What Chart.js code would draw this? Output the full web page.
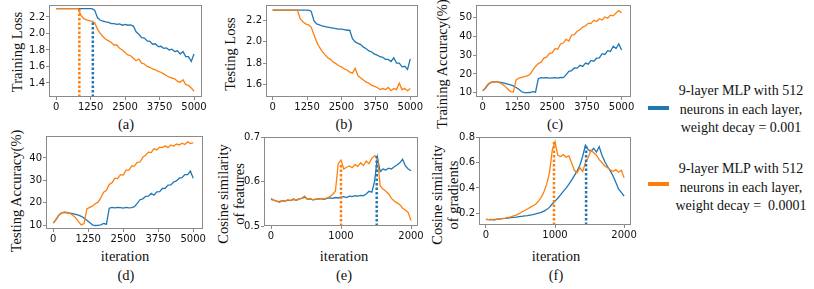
<!DOCTYPE html>
<html>
<head>
<meta charset="utf-8">
<script src="https://cdn.jsdelivr.net/npm/chart.js@4.4.0/dist/chart.umd.min.js"></script>
<style>
  body { margin: 0; background: #fff; }
  #fig { position: relative; width: 814px; height: 289px; overflow: hidden; background: #fff;
         font-family: 'Liberation Serif', 'Times New Roman', serif; color: #111; }
  #fig canvas { position: absolute; }
  .lbl { position: absolute; white-space: nowrap; font-size: 14.5px; line-height: 15.5px;
         text-align: center; transform: translate(-50%, -50%); }
  .rot { transform: translate(-50%, -50%) rotate(-90deg); }
  .patch { position: absolute; width: 21px; height: 4px; }
  .leg { position: absolute; white-space: nowrap; font-size: 14px; line-height: 18.7px;
         text-align: center; transform: translate(-50%, -50%); }
</style>
</head>
<body>
<div id="fig">
  <div class="lbl rot" style="left:18px;top:52px">Training Loss</div>
  <div class="lbl rot" style="left:231px;top:54px">Testing Loss</div>
  <div class="lbl rot" style="left:443px;top:64px">Training Accuracy(%)</div>
  <div class="lbl rot" style="left:17px;top:191px">Testing Accuracy(%)</div>
  <div class="lbl rot" style="left:231px;top:194px">Cosine similarity<br>of features</div>
  <div class="lbl rot" style="left:445px;top:195px">Cosine similarity<br>of gradients</div>

  <div class="lbl" style="left:126px;top:125px">(a)</div>
  <div class="lbl" style="left:344px;top:125px">(b)</div>
  <div class="lbl" style="left:555px;top:125px">(c)</div>
  <div class="lbl" style="left:125px;top:257px">iteration</div>
  <div class="lbl" style="left:344px;top:257px">iteration</div>
  <div class="lbl" style="left:556px;top:257px">iteration</div>
  <div class="lbl" style="left:126px;top:276px">(d)</div>
  <div class="lbl" style="left:344px;top:276px">(e)</div>
  <div class="lbl" style="left:556px;top:276px">(f)</div>

  <div class="patch" style="left:648px;top:106px;background:#1f77b4"></div>
  <div class="leg" style="left:741px;top:110px">9-layer MLP with 512<br>neurons in each layer,<br>weight decay = 0.001</div>
  <div class="patch" style="left:648px;top:182px;background:#ff7f0e"></div>
  <div class="leg" style="left:741px;top:188px">9-layer MLP with 512<br>neurons in each layer,<br>weight decay =&nbsp; 0.0001</div>
</div>
<script>
const BLUE = '#1f77b4';
const ORANGE = '#ff7f0e';
const FRAME = '#8a8a8a';

// iterations (x) for the 5000-step runs and the 2000-step similarity runs
const iters5k = [0,100,200,300,400,500,600,700,800,900,1000,1100,1200,1300,1400,1500,1600,1700,1800,1900,
  2000,2100,2200,2300,2400,2500,2600,2700,2800,2900,3000,3100,3200,3300,3400,3500,3600,3700,3800,3900,
  4000,4100,4200,4300,4400,4500,4600,4700,4800,4900,5000];
const iters2k = [0,40,80,120,160,200,240,280,320,360,400,440,480,520,560,600,640,680,720,760,
  800,840,880,920,960,1000,1040,1080,1120,1160,1200,1240,1280,1320,1360,1400,1440,1480,1520,1560,
  1600,1640,1680,1720,1760,1800,1840,1880,1920,1960,2000];

// blue = weight decay 0.001, orange = weight decay 0.0001
const trainLossBlue = [2.30,2.30,2.30,2.30,2.30,2.30,2.30,2.30,2.30,2.30,2.30,2.30,2.30,2.30,
  2.28,2.19,2.16,2.15,2.14,2.135,
  2.12,2.12,2.11,2.115,2.10,2.11,2.10,2.105,2.09,2.02,
  1.99,1.95,1.945,1.91,1.905,1.87,1.875,1.84,1.845,1.82,
  1.825,1.80,1.81,1.78,1.79,1.75,1.78,1.72,1.72,1.66,
  1.75];
const trainLossOrange = [2.30,2.30,2.30,2.30,2.30,2.30,2.30,2.30,2.30,
  2.22,2.18,2.165,2.155,2.145,2.13,2.05,2.00,1.96,1.93,1.91,
  1.89,1.86,1.86,1.82,1.80,1.77,1.74,1.73,1.70,1.67,
  1.69,1.64,1.63,1.60,1.59,1.57,1.56,1.54,1.53,1.51,
  1.49,1.47,1.46,1.45,1.42,1.41,1.44,1.38,1.37,1.34,
  1.30];

const testLossBlue = [2.30,2.30,2.30,2.30,2.30,2.30,2.30,2.30,2.30,2.30,2.30,2.30,2.30,2.30,
  2.29,2.20,2.17,2.16,2.15,2.145,
  2.14,2.135,2.13,2.125,2.12,2.12,2.115,2.11,2.11,2.03,
  2.00,1.985,1.975,1.95,1.935,1.915,1.905,1.885,1.875,1.86,
  1.855,1.835,1.835,1.815,1.85,1.80,1.80,1.765,1.77,1.74,
  1.84];
const testLossOrange = [2.30,2.30,2.30,2.30,2.30,2.30,2.30,2.30,2.30,2.30,
  2.22,2.19,2.17,2.16,2.14,2.07,2.00,1.95,1.91,1.88,
  1.85,1.835,1.81,1.795,1.775,1.765,1.745,1.735,1.715,1.705,
  1.75,1.68,1.66,1.64,1.62,1.61,1.59,1.58,1.57,1.55,
  1.56,1.55,1.57,1.54,1.56,1.55,1.61,1.55,1.56,1.54,
  1.56];

const trainAccBlue = [11,12.5,14.5,15.5,15.8,15.8,15.6,15.4,15.0,14.6,
  14.2,13.6,12.8,11.8,10.5,10.0,10.0,10.1,10.6,10.3,
  17.5,18.0,17.9,18.0,17.8,17.9,18.0,17.8,18.1,18.0,
  19.5,21.4,21.8,23.2,23.1,24.6,24.0,25.8,25.2,27.2,
  26.8,28.4,28.6,30.8,30.4,32.4,32.0,34.8,33.6,36.0,
  32.8];
const trainAccOrange = [11,12.8,14.8,15.6,15.9,15.8,15.4,14.6,13.5,12.0,
  10.5,10.3,16.8,17.8,18.2,18.6,19.0,19.8,22.0,24.0,
  25.5,26.2,28.5,29.0,31.0,31.2,33.5,33.2,36.0,36.5,
  38.5,37.6,40.8,41.0,42.8,43.6,45.0,45.6,47.0,47.0,
  48.6,48.0,49.5,48.8,50.4,49.8,51.4,51.0,52.5,53.8,
  52.6];

const testAccBlue = [11,12.5,14.5,15.5,15.8,15.6,15.4,15.2,14.9,14.5,
  14.0,13.2,12.3,11.2,10.2,9.9,10.0,10.2,10.8,10.5,
  17.6,18.0,17.8,18.0,17.9,17.7,18.0,17.8,17.9,18.3,
  19.8,21.4,21.8,22.9,23.0,24.2,23.4,24.9,25.0,26.4,
  26.5,27.9,28.0,29.3,29.8,31.0,31.2,32.6,32.6,34.2,
  31.0];
const testAccOrange = [11,12.8,14.6,15.5,15.8,15.7,15.3,14.5,13.3,11.6,
  10.2,10.8,17.3,18.0,18.5,19.6,20.3,22.3,24.8,25.6,
  28.2,29.0,31.0,30.8,32.6,32.4,34.6,34.6,36.5,36.4,
  38.0,38.2,40.4,41.2,42.6,42.4,44.2,43.6,44.8,44.6,
  45.4,44.6,45.8,45.2,46.2,45.8,46.6,46.0,47.2,46.4,
  46.8];

const featSimBlue = [0.560,0.558,0.556,0.555,0.557,0.556,0.558,0.557,0.560,0.558,
  0.561,0.562,0.565,0.560,0.561,0.559,0.560,0.561,0.561,0.560,
  0.562,0.563,0.562,0.564,0.563,0.565,0.566,0.564,0.567,0.566,
  0.568,0.567,0.569,0.568,0.572,0.578,0.576,0.600,0.655,0.622,
  0.628,0.626,0.630,0.628,0.633,0.637,0.642,0.650,0.635,0.628,
  0.624];
const featSimOrange = [0.562,0.558,0.556,0.553,0.557,0.555,0.559,0.557,0.561,0.558,
  0.560,0.563,0.567,0.560,0.562,0.559,0.561,0.560,0.562,0.561,
  0.563,0.566,0.571,0.578,0.640,0.648,0.628,0.632,0.635,0.631,
  0.638,0.634,0.642,0.636,0.646,0.640,0.652,0.658,0.655,0.590,
  0.583,0.578,0.572,0.562,0.556,0.552,0.548,0.540,0.536,0.530,
  0.512];

const gradSimBlue = [0.150,0.147,0.149,0.145,0.151,0.152,0.155,0.157,0.160,0.163,
  0.166,0.168,0.171,0.174,0.177,0.180,0.184,0.188,0.193,0.199,
  0.206,0.215,0.228,0.245,0.272,0.295,0.318,0.345,0.372,0.398,
  0.428,0.462,0.498,0.535,0.580,0.650,0.740,0.705,0.690,0.715,
  0.685,0.728,0.660,0.610,0.570,0.535,0.495,0.445,0.390,0.365,
  0.335];
const gradSimOrange = [0.150,0.148,0.146,0.149,0.151,0.153,0.158,0.160,0.165,0.170,
  0.177,0.183,0.195,0.208,0.220,0.232,0.245,0.258,0.270,0.295,
  0.325,0.370,0.430,0.520,0.700,0.768,0.660,0.650,0.665,0.645,
  0.655,0.600,0.540,0.520,0.560,0.530,0.600,0.640,0.700,0.680,
  0.660,0.625,0.600,0.575,0.560,0.545,0.530,0.545,0.525,0.540,
  0.480];

// dotted markers: [blue, orange] iteration and the height they reach
const lossDropIters = [1330, 840];
const lossDropTops = [2.16, 2.30];
const featDropIters = [1510, 1000];
const featDropTops = [0.66, 0.64];
const gradDropIters = [1450, 985];
const gradDropTops = [0.74, 0.766];

const ticks5k = [0, 1250, 2500, 3750, 5000];
const ticks2k = [0, 1000, 2000];
const trainLossTicks = [1.4, 1.6, 1.8, 2.0, 2.2];
const testLossTicks = [1.6, 1.8, 2.0, 2.2];
const trainAccTicks = [10, 20, 30, 40, 50];
const testAccTicks = [10, 20, 30, 40];
const featTicks = [0.5, 0.6, 0.7];
const gradTicks = [0.2, 0.4, 0.6, 0.8];

const YW = 34, XH = 16, PT = 8, PR = 16;
const tickFont = { family: 'DejaVu Sans', size: 10 };
const fig = document.getElementById('fig');

const framePlugin = {
  id: 'frame',
  afterDraw(chart) {
    const a = chart.chartArea, ctx = chart.ctx;
    ctx.save();
    ctx.strokeStyle = FRAME;
    ctx.lineWidth = 1;
    ctx.strokeRect(Math.round(a.left) + 0.5, Math.round(a.top) + 0.5,
      Math.round(a.right - a.left) - 1, Math.round(a.bottom - a.top) - 1);
    ctx.restore();
  }
};

function axis(range, ticks, fmt, isX) {
  return {
    type: 'linear',
    min: range[0],
    max: range[1],
    afterBuildTicks: s => { s.ticks = ticks.map(v => ({ value: v })); },
    afterFit: s => { if (isX) s.height = XH; else s.width = YW; },
    grid: { drawOnChartArea: false, drawTicks: true, tickLength: 3, color: FRAME, tickColor: FRAME },
    border: { display: false },
    ticks: { font: tickFont, color: '#111', padding: 1, maxRotation: 0, autoSkip: false, callback: fmt }
  };
}

function line(xs, ys, color) {
  return {
    data: xs.map((x, i) => ({ x: x, y: ys[i] })),
    borderColor: color, borderWidth: 1.3, pointRadius: 0, tension: 0, fill: false
  };
}

function marker(x, top, bottom, color) {
  return {
    data: [{ x: x, y: bottom }, { x: x, y: top }],
    borderColor: color, borderWidth: 2.5, borderDash: [2.5, 2], pointRadius: 0, fill: false
  };
}

function plot(box, xRange, yRange, xTicks, yTicks, yFmt, datasets) {
  const [l, t, r, b] = box;
  const canvas = document.createElement('canvas');
  canvas.width = r - l + YW + PR;
  canvas.height = b - t + PT + XH;
  canvas.style.left = (l - YW) + 'px';
  canvas.style.top = (t - PT) + 'px';
  fig.appendChild(canvas);
  new Chart(canvas, {
    type: 'line',
    data: { datasets: datasets },
    options: {
      responsive: false,
      animation: false,
      devicePixelRatio: 1,
      layout: { padding: { top: PT, right: PR, left: 0, bottom: 0 } },
      plugins: { legend: { display: false }, tooltip: { enabled: false } },
      scales: {
        x: axis(xRange, xTicks, v => String(v), true),
        y: axis(yRange, yTicks, yFmt, false)
      }
    },
    plugins: [framePlugin]
  });
}

const oneDec = v => v.toFixed(1);
const whole = v => String(v);

// (a) training loss
plot([49, 5, 202, 97], [-260, 5290], [1.23, 2.345], ticks5k, trainLossTicks, oneDec, [
  marker(lossDropIters[1], lossDropTops[1], 1.23, ORANGE),
  marker(lossDropIters[0], lossDropTops[0], 1.23, BLUE),
  line(iters5k, trainLossOrange, ORANGE),
  line(iters5k, trainLossBlue, BLUE)
]);

// (b) testing loss
plot([266, 5, 418, 97], [-240, 5280], [1.48, 2.348], ticks5k, testLossTicks, oneDec, [
  line(iters5k, testLossOrange, ORANGE),
  line(iters5k, testLossBlue, BLUE)
]);

// (c) training accuracy
plot([476, 5, 631, 97], [-245, 5340], [7.7, 56.8], ticks5k, trainAccTicks, whole, [
  line(iters5k, trainAccOrange, ORANGE),
  line(iters5k, trainAccBlue, BLUE)
]);

// (d) testing accuracy
plot([46, 136, 203, 229], [-260, 5350], [8.35, 49.8], ticks5k, testAccTicks, whole, [
  line(iters5k, testAccOrange, ORANGE),
  line(iters5k, testAccBlue, BLUE)
]);

// (e) cosine similarity of features
plot([264, 137, 418, 226], [-100, 2100], [0.5, 0.7], ticks2k, featTicks, oneDec, [
  marker(featDropIters[0], featDropTops[0], 0.5, BLUE),
  marker(featDropIters[1], featDropTops[1], 0.5, ORANGE),
  line(iters2k, featSimOrange, ORANGE),
  line(iters2k, featSimBlue, BLUE)
]);

// (f) cosine similarity of gradients
plot([479, 137, 631, 225], [-100, 2100], [0.105, 0.805], ticks2k, gradTicks, oneDec, [
  marker(gradDropIters[0], gradDropTops[0], 0.105, BLUE),
  marker(gradDropIters[1], gradDropTops[1], 0.105, ORANGE),
  line(iters2k, gradSimOrange, ORANGE),
  line(iters2k, gradSimBlue, BLUE)
]);
</script>
</body>
</html>
